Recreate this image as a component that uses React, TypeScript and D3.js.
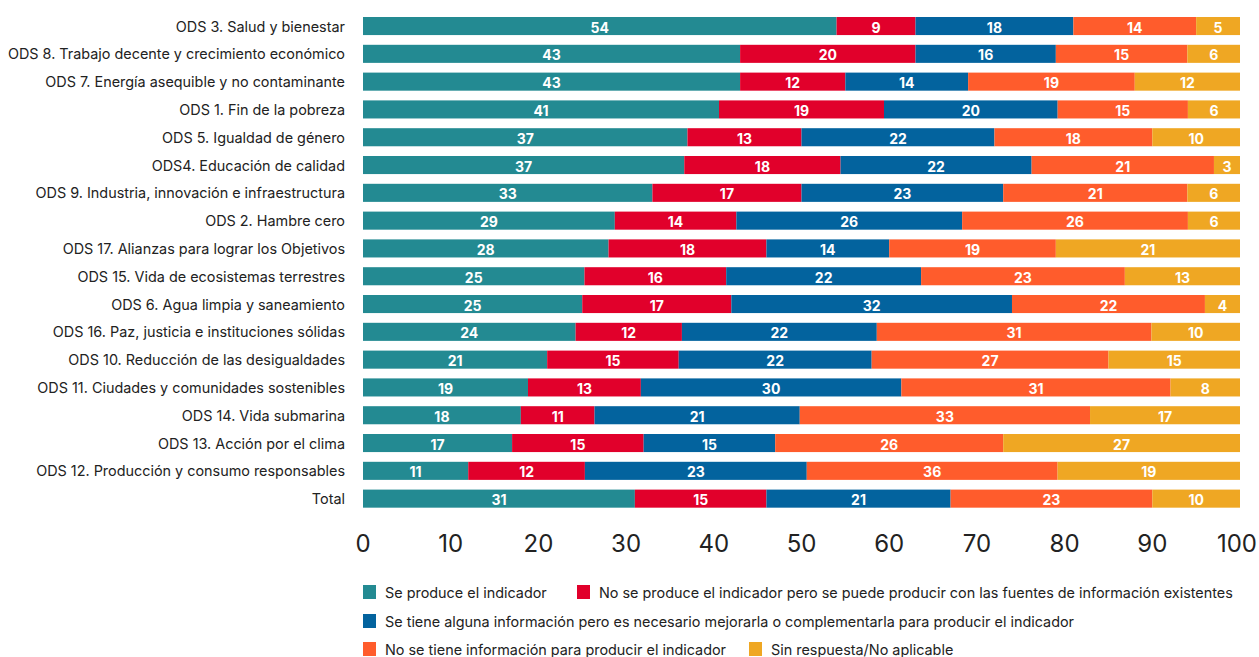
import React from "react";
import * as d3 from "d3";

const categories = [
  "ODS 3. Salud y bienestar",
  "ODS 8. Trabajo decente y crecimiento económico",
  "ODS 7. Energía asequible y no contaminante",
  "ODS 1. Fin de la pobreza",
  "ODS 5. Igualdad de género",
  "ODS4. Educación de calidad",
  "ODS 9. Industria, innovación e infraestructura",
  "ODS 2. Hambre cero",
  "ODS 17. Alianzas para lograr los Objetivos",
  "ODS 15. Vida de ecosistemas terrestres",
  "ODS 6. Agua limpia y saneamiento",
  "ODS 16. Paz, justicia e instituciones sólidas",
  "ODS 10. Reducción de las desigualdades",
  "ODS 11. Ciudades y comunidades sostenibles",
  "ODS 14. Vida submarina",
  "ODS 13. Acción por el clima",
  "ODS 12. Producción y consumo responsables",
  "Total",
];

// Labels printed on the bars
const seProduce = [54, 43, 43, 41, 37, 37, 33, 29, 28, 25, 25, 24, 21, 19, 18, 17, 11, 31];
const noSeProducePuede = [9, 20, 12, 19, 13, 18, 17, 14, 18, 16, 17, 12, 15, 13, 11, 15, 12, 15];
const algunaInfo = [18, 16, 14, 20, 22, 22, 23, 26, 14, 22, 32, 22, 22, 30, 21, 15, 23, 21];
const noInfo = [14, 15, 19, 15, 18, 21, 21, 26, 19, 23, 22, 31, 27, 31, 33, 26, 36, 23];
const sinRespuesta = [5, 6, 12, 6, 10, 3, 6, 6, 21, 13, 4, 10, 15, 8, 17, 27, 19, 10];

// Segment lengths as drawn in the picture where they differ from the printed labels
const drawnLengths: Record<string, number[]> = {
  "ODS 14. Vida submarina": [18, 8.4, 23.4, 33.1, 17.1],
  "ODS 12. Producción y consumo responsables": [12.0, 13.3, 25.3, 28.6, 20.8],
};

const seriesNames = [
  "Se produce el indicador",
  "No se produce el indicador pero se puede producir con las fuentes de información existentes",
  "Se tiene alguna información pero es necesario mejorarla o complementarla para producir el indicador",
  "No se tiene información para producir el indicador",
  "Sin respuesta/No aplicable",
];
const seriesValues = [seProduce, noSeProducePuede, algunaInfo, noInfo, sinRespuesta];
const colors = ["#238a92", "#e1002b", "#03639e", "#ff5c2c", "#efa723"];
const xTicks = [0, 10, 20, 30, 40, 50, 60, 70, 80, 90, 100];

const W = 1259;
const H = 657;
const FONT = "Inter, 'Open Sans', sans-serif";

export default function App() {
  const keys = seriesNames.map((_, i) => "s" + i);
  const rows = categories.map((c, r) => {
    const o: any = { cat: c };
    keys.forEach((k, i) => (o[k] = drawnLengths[c] ? drawnLengths[c][i] : seriesValues[i][r]));
    return o;
  });
  const stacked = d3.stack<any>().keys(keys).offset(d3.stackOffsetExpand)(rows);

  const x = d3.scaleLinear().domain([0, 1]).range([363, 1240]);
  const xt = d3.scaleLinear().domain([0, 100]).range([363, 1240]);
  const y = d3.scaleBand<string>().domain(categories).range([7.27, 517.4]).padding(0.35);

  const legendRows = [
    [{ i: 0, x: 363 }, { i: 1, x: 577 }],
    [{ i: 2, x: 363 }],
    [{ i: 3, x: 363 }, { i: 4, x: 749 }],
  ];
  const legendY = [592, 621, 649];

  return (
    <svg width={W} height={H} style={{ position: "absolute", left: 0, top: 0, background: "#fff" }} fontFamily={FONT}>
      {categories.map((c) => (
        <text key={c} x={345} y={y(c)! + y.bandwidth() / 2} textAnchor="end" dominantBaseline="central" fontSize={14.4} fill="#222">
          {c}
        </text>
      ))}
      {stacked.map((s, si) => (
        <g key={si}>
          {s.map((d, ri) => {
            const x0 = x(d[0]);
            const x1 = x(d[1]);
            const yy = y(categories[ri])!;
            return (
              <g key={ri}>
                <rect x={x0} y={yy} width={Math.max(0, x1 - x0)} height={y.bandwidth()} fill={colors[si]} />
                <text x={(x0 + x1) / 2} y={yy + y.bandwidth() / 2 + 1} textAnchor="middle" dominantBaseline="central" fontSize={14} fontWeight={700} fill="#fff">
                  {seriesValues[si][ri]}
                </text>
              </g>
            );
          })}
        </g>
      ))}
      {xTicks.map((t, i) => (
        <text
          key={t}
          x={i === xTicks.length - 1 ? W - 2 : xt(t)}
          y={543}
          textAnchor={i === xTicks.length - 1 ? "end" : "middle"}
          dominantBaseline="central"
          fontSize={24}
          fill="#222"
        >
          {t}
        </text>
      ))}
      {legendRows.map((row, r) =>
        row.map((it) => (
          <g key={it.i}>
            <rect x={it.x} y={legendY[r] - 7} width={13} height={14} fill={colors[it.i]} />
            <text x={it.x + 22} y={legendY[r]} dominantBaseline="central" fontSize={14.4} fill="#222">
              {seriesNames[it.i]}
            </text>
          </g>
        ))
      )}
    </svg>
  );
}
